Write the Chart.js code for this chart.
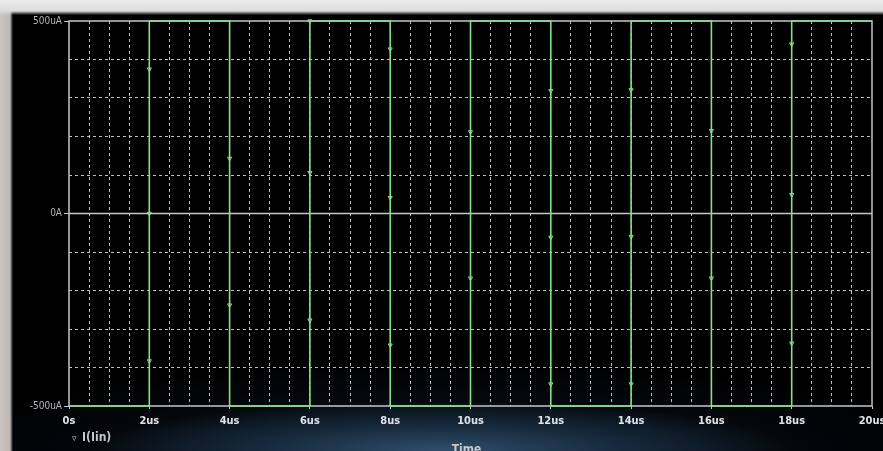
<!DOCTYPE html>
<html>
<head>
<meta charset="utf-8">
<title>I(Iin)</title>
<script src="https://cdn.jsdelivr.net/npm/chart.js@4.4.1/dist/chart.umd.min.js"></script>
<style>
  html, body {
    margin: 0;
    padding: 0;
    width: 883px;
    height: 451px;
    overflow: hidden;
    background:
      linear-gradient(to bottom, #ececec 0px, #dcdcdc 11px, rgba(0,0,0,0) 15px),
      linear-gradient(to right, #cbc6c1 0px, #bdb8b3 10px, rgba(0,0,0,0) 13px),
      radial-gradient(ellipse 40% 11% at 50% 100%, #2f4e6c 0%, #152739 55%, rgba(0,0,0,0) 100%),
      radial-gradient(ellipse 60% 20% at 50% 100%, #0b1520 0%, #000 100%),
      #000;
  }
  canvas { display: block; }
</style>
</head>
<body>
<canvas id="plot" width="883" height="451"></canvas>
<script>
// Square wave corners: time in us, current in uA
const edgeTime = [0, 2, 2, 4, 4, 6, 6, 8, 8, 10, 10, 12, 12, 14, 14, 16, 16, 18, 18, 20];
const edgeCurrent = [-500, -500, 500, 500, -500, -500, 500, 500, -500, -500,
                     500, 500, -500, -500, 500, 500, -500, -500, 500, 500];

// Trace markers (the little triangles sitting on the edges)
const markerTime = [2, 2, 2, 4, 4, 6, 6, 6, 8, 8, 8, 10, 10, 12, 12, 12, 14, 14, 14, 16, 16, 18, 18, 18];
const markerCurrent = [375, 0, -383, 143, -238, 500, 106, -277, 427, 41, -342, 212, -168,
                       319, -62, -443, 321, -60, -443, 215, -168, 440, 49, -337];

// Axis labels
const xLabelled = [0, 2, 4, 6, 8, 10, 12, 14, 16, 18, 20];
const yLabelled = { '-500': '-500uA', '0': '0A', '500': '500uA' };
const traceName = 'I(Iin)';
const xTitle = 'Time';

const traceColor = '#86e088';
const frameColor = '#c6c6ca';
const gridColor = 'rgba(225,225,225,0.85)';

const toPoints = (xs, ys) => xs.map((x, i) => ({ x: x, y: ys[i] }));

const xLabel = (v) => (v === 0 ? '0s' : v + 'us');

// frame, zero line and bottom texts
const framePlugin = {
  id: 'frame',
  beforeDatasetsDraw(chart) {
    const { ctx, chartArea: a, scales } = chart;
    const y0 = scales.y.getPixelForValue(0);
    ctx.save();
    ctx.strokeStyle = frameColor;
    ctx.lineWidth = 1.5;
    ctx.strokeRect(a.left, a.top, a.right - a.left, a.bottom - a.top);
    ctx.beginPath();
    ctx.moveTo(a.left, y0);
    ctx.lineTo(a.right, y0);
    ctx.stroke();
    ctx.restore();
  },
  afterDraw(chart) {
    const { ctx, chartArea: a } = chart;
    ctx.save();
    ctx.fillStyle = '#c8c8cc';
    ctx.textBaseline = 'middle';
    ctx.font = 'bold 9px "DejaVu Sans"';
    ctx.fillText('\u25BF', a.left + 3, 439);
    ctx.font = 'bold 12px "DejaVu Sans Condensed"';
    ctx.fillText(traceName, a.left + 13, 438);
    ctx.textAlign = 'center';
    ctx.fillText(xTitle, (a.left + a.right) / 2 - 4, 450);
    ctx.restore();
  }
};

const chart = new Chart(document.getElementById('plot').getContext('2d'), {
  type: 'scatter',
  data: {
    datasets: [
      {
        label: traceName,
        data: toPoints(edgeTime, edgeCurrent),
        showLine: true,
        borderColor: traceColor,
        borderWidth: 1.6,
        pointRadius: 0,
        tension: 0,
        clip: false,
      },
      {
        label: 'markers',
        data: toPoints(markerTime, markerCurrent),
        showLine: false,
        pointStyle: 'triangle',
        rotation: 180,
        pointRadius: 2.4,
        borderWidth: 1,
        borderColor: traceColor,
        backgroundColor: 'rgba(0,0,0,0)',
        clip: false,
      },
    ],
  },
  options: {
    responsive: false,
    animation: false,
    devicePixelRatio: 1,
    layout: { padding: { top: 21, right: 11, bottom: 0, left: 0 } },
    plugins: {
      legend: { display: false },
      tooltip: { enabled: false },
    },
    scales: {
      x: {
        type: 'linear',
        min: 0,
        max: 20,
        afterFit(scale) {
          scale.height = 45;
          scale.paddingLeft = 0;
          scale.paddingRight = 0;
        },
        ticks: {
          stepSize: 0.5,
          autoSkip: false,
          maxRotation: 0,
          padding: 6,
          color: '#e2e2e6',
          font: { family: '"DejaVu Sans Condensed"', size: 11, weight: 'bold' },
          callback: (v) => (xLabelled.includes(v) ? xLabel(v) : ''),
        },
        grid: {
          color: (c) => (c.tick && (c.tick.value === 0 || c.tick.value === 20) ? 'rgba(0,0,0,0)' : gridColor),
          lineWidth: 1,
          tickLength: 3,
          tickColor: (c) => (c.tick && xLabelled.includes(c.tick.value) ? frameColor : 'rgba(0,0,0,0)'),
        },
        border: { display: false, dash: [3, 3] },
      },
      y: {
        type: 'linear',
        min: -500,
        max: 500,
        afterFit(scale) {
          scale.width = 69;
        },
        ticks: {
          stepSize: 100,
          autoSkip: false,
          padding: 2,
          color: '#b4b4b8',
          font: { family: '"DejaVu Sans Condensed"', size: 10 },
          callback: (v) => (yLabelled[String(v)] !== undefined ? yLabelled[String(v)] : ''),
        },
        grid: {
          color: (c) => (c.tick && yLabelled[String(c.tick.value)] !== undefined ? 'rgba(0,0,0,0)' : gridColor),
          lineWidth: 1,
          tickLength: 5,
          tickColor: (c) => (c.tick && yLabelled[String(c.tick.value)] !== undefined ? frameColor : 'rgba(0,0,0,0)'),
        },
        border: { display: false, dash: [3, 3] },
      },
    },
  },
  plugins: [framePlugin],
});
</script>
</body>
</html>
